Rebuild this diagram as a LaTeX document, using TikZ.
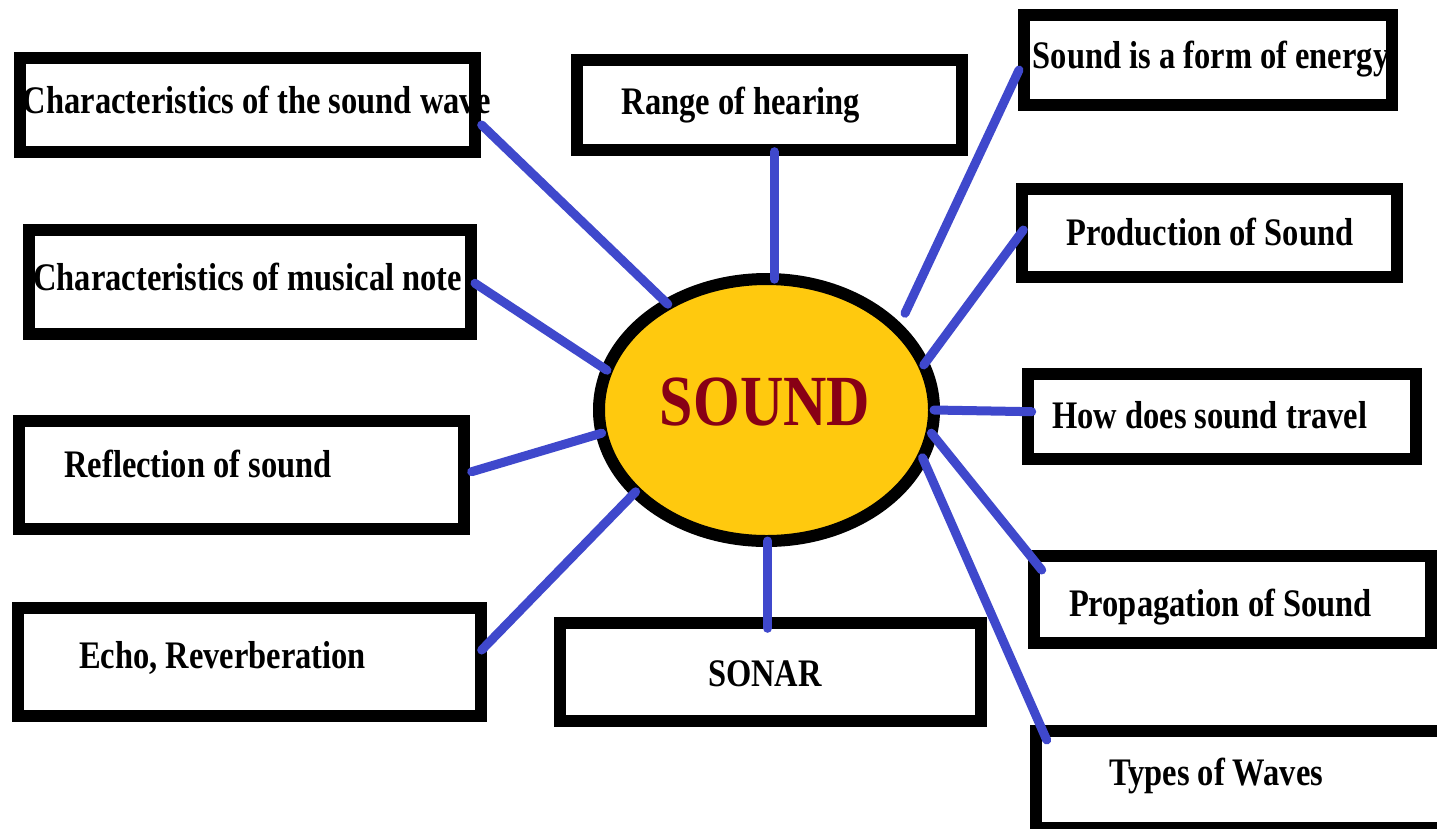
\documentclass[tikz,border=0pt]{standalone}
\usepackage{fontspec}
\setmainfont{Liberation Serif}
\usepackage{graphicx}
\usetikzlibrary{shapes.geometric}
\definecolor{indigo}{RGB}{63,72,204}
\definecolor{gold}{RGB}{255,201,14}
\definecolor{darkred}{RGB}{136,0,21}
\newcommand{\vstretch}[1]{\scalebox{1}[1.2]{#1}}
\begin{document}
\begin{tikzpicture}[x=1pt,y=-1pt,
  box/.style={draw=black,line width=12pt,rectangle,inner sep=0pt,outer sep=0pt,fill=white},
  txt/.style={anchor=base west,inner sep=0pt,outer sep=0pt,font=\fontsize{32.5}{39}\selectfont\bfseries},
  conn/.style={draw=indigo,line width=9pt,line cap=round}]
\clip (0,0) rectangle (1437,828);
\fill[white] (0,0) rectangle (1437,828);

% boxes
\node[box,minimum width=455pt,minimum height=94pt] (b1) at (247.5,105) {};
\node[box,minimum width=442pt,minimum height=104pt] (b2) at (249.7,282) {};
\node[box,minimum width=385.3pt,minimum height=90pt] (b3) at (769.65,105) {};
\node[box,minimum width=368.6pt,minimum height=89.7pt] (b4) at (1208,60.15) {};
\node[box,minimum width=375pt,minimum height=88pt] (b5) at (1209.2,233.3) {};
\node[box,minimum width=387.4pt,minimum height=84.7pt] (b6) at (1222,416.65) {};
\node[box,minimum width=396.7pt,minimum height=87.3pt] (b7) at (1232.65,599.65) {};
\node[box,minimum width=424pt,minimum height=97.2pt] (b8) at (1248,779.1) {};
\node[box,minimum width=421pt,minimum height=97.7pt] (b9) at (770.8,671.85) {};
\node[box,minimum width=444.7pt,minimum height=108pt] (b10) at (241.65,475) {};
\node[box,minimum width=463pt,minimum height=107.4pt] (b11) at (249.2,662) {};

% centre
\node[ellipse,draw=black,line width=12pt,fill=gold,minimum width=335pt,minimum height=262pt,inner sep=0pt,outer sep=0pt] (e) at (766.5,410) {};
\node[anchor=base,inner sep=0pt,text=darkred,font=\fontsize{60}{70}\selectfont\bfseries] (lbl) at (765,425) {\vstretch{SOUND}};

% texts
\node[txt] (t1) at (23,113) {\vstretch{Characteristics of the sound wave}};
\node[txt] (t2) at (33.3,290) {\vstretch{Characteristics of musical note}};
\node[txt] (t3) at (621.7,114) {\vstretch{Range of hearing}};
\node[txt] (t4) at (1032.7,68.3) {\vstretch{Sound is a form of energy}};
\node[txt] (t5) at (1066.7,245.7) {\vstretch{Production of Sound}};
\node[txt] (t6) at (1052.3,428.3) {\vstretch{How does sound travel}};
\node[txt] (t7) at (1069,616.7) {\vstretch{Propagation of Sound}};
\node[txt] (t8) at (1109,785) {\vstretch{Types of Waves}};
\node[txt] (t9) at (708,686.7) {\vstretch{SONAR}};
\node[txt] (t10) at (64.3,477.7) {\vstretch{Reflection of sound}};
\node[txt] (t11) at (79,668.3) {\vstretch{Echo, Reverberation}};

% connector ends at the boxes
\coordinate (c1) at (481.7,125);
\coordinate (c2) at (774.3,151.7);
\coordinate (c3) at (1019,70);
\coordinate (c3e) at (905,313.3);
\coordinate (c4) at (1023.3,230);
\coordinate (c5) at (1031.7,411.7);
\coordinate (c6) at (1041.7,570);
\coordinate (c7) at (1046.7,740);
\coordinate (c8) at (767.7,628.3);
\coordinate (c9) at (481.7,650);
\coordinate (c10) at (471.7,471.7);
\coordinate (c11) at (475,283.3);

% connectors
\draw[conn] (c1) -- (e.133);
\draw[conn] (c2) -- (c2 |- e.86);
\draw[conn] (c3) -- (c3e);
\draw[conn] (c4) -- (e.16);
\draw[conn] (c5) -- (e.0);
\draw[conn] (c6) -- (e.-8);
\draw[conn] (c7) -- (e.-17);
\draw[conn] (c8) -- (c8 |- e.south);
\draw[conn] (c9) -- (e.212.5);
\draw[conn] (c10) -- (e.188);
\draw[conn] (c11) -- (e.166);
\end{tikzpicture}
\end{document}
